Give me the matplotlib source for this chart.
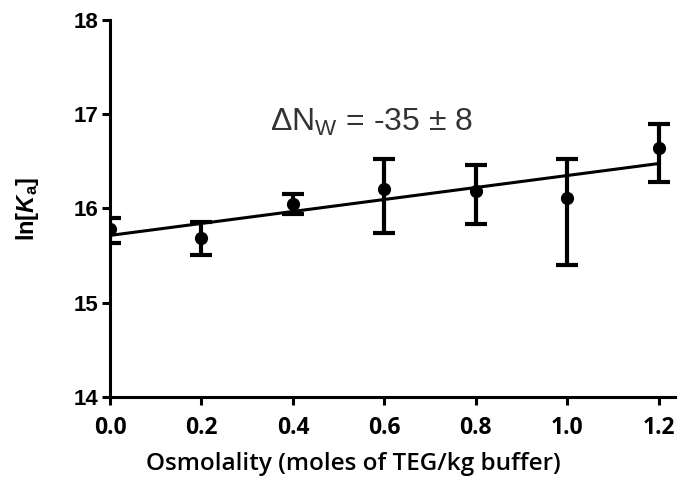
import numpy as np
import matplotlib
matplotlib.use("Agg")
import matplotlib.pyplot as plt

# data
osm = [0.0, 0.2, 0.4, 0.6, 0.8, 1.0, 1.2]
lnka = [15.78, 15.69, 16.05, 16.21, 16.19, 16.11, 16.64]
err_lo = [0.15, 0.18, 0.11, 0.47, 0.35, 0.71, 0.36]
err_hi = [0.12, 0.17, 0.10, 0.31, 0.27, 0.41, 0.26]
xticks = [0.0, 0.2, 0.4, 0.6, 0.8, 1.0, 1.2]
yticks = [14, 15, 16, 17, 18]

plt.rcParams["font.family"] = ["Liberation Sans", "DejaVu Sans"]
plt.rcParams["mathtext.fontset"] = "custom"
plt.rcParams["mathtext.rm"] = "Liberation Sans"
plt.rcParams["mathtext.it"] = "Liberation Sans:italic"
plt.rcParams["mathtext.bf"] = "Liberation Sans:bold"
plt.rcParams["mathtext.bfit"] = "Liberation Sans:italic:bold"

fig = plt.figure(figsize=(6.81, 4.88), dpi=100)
ax = fig.add_axes([0.1615, 0.1865, 0.83, 0.7725])

# linear fit over the means
slope, icept = np.polyfit(osm, lnka, 1)
xf = np.array([min(osm), max(osm)])
ax.plot(xf, icept + slope * xf, color="black", lw=2.2, zorder=2)

ax.errorbar(osm, lnka, yerr=[err_lo, err_hi], fmt="o", color="black",
            ms=8.5, elinewidth=3, capsize=8, capthick=3, zorder=3)

ax.set_xlim(0, 1.236)
ax.set_ylim(14, 18)
ax.set_xticks(xticks)
ax.set_xticklabels([f"{t:.1f}" for t in xticks], family="Open Sans",
                   fontweight="bold", fontsize=16.5)
ax.set_yticks(yticks)
ax.set_yticklabels([str(t) for t in yticks], fontweight="bold", fontsize=16)

for s in ["top", "right"]:
    ax.spines[s].set_visible(False)
for s in ["left", "bottom"]:
    ax.spines[s].set_linewidth(2.2)
ax.tick_params(width=2.2, length=6)
ax.tick_params(axis="x", pad=8)
ax.tick_params(axis="y", pad=2)

ax.set_xlabel("Osmolality (moles of TEG/kg buffer)", fontsize=17.5,
              family="Open Sans", fontweight="semibold")
ax.xaxis.set_label_coords(0.43, -0.145)
ax.set_ylabel(r"ln[$\mathbfit{K}_{\mathbf{a}}$]", fontsize=17,
              fontweight="bold")
ax.yaxis.set_label_coords(-0.122, 0.5)

ax.text(0.573, 16.91, r"$\Delta$N$_{\mathrm{W}}$ = -35 $\pm$ 8", fontsize=23,
        color="#333333", ha="center", va="center")

fig.savefig("out.png", dpi=100)
